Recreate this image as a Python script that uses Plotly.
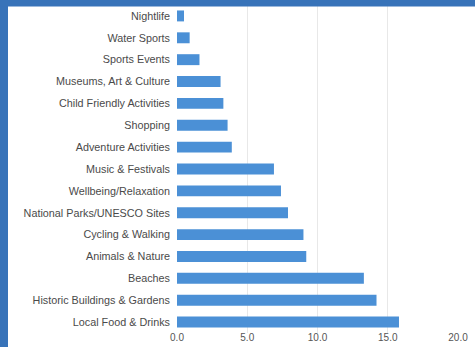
import plotly.graph_objects as go

categories = [
    "Nightlife", "Water Sports", "Sports Events", "Museums, Art & Culture",
    "Child Friendly Activities", "Shopping", "Adventure Activities",
    "Music & Festivals", "Wellbeing/Relaxation", "National Parks/UNESCO Sites",
    "Cycling & Walking", "Animals & Nature", "Beaches",
    "Historic Buildings & Gardens", "Local Food & Drinks",
]
values = [0.5, 0.9, 1.6, 3.1, 3.3, 3.6, 3.9, 6.9, 7.4, 7.9, 9.0, 9.2, 13.3, 14.2, 15.8]
x_ticks = [0, 5, 10, 15, 20]

W, H = 475, 347
L, R, T, B = 177, 17, 5, 14
pw, ph = W - L - R, H - T - B

fig = go.Figure(go.Bar(
    x=values, y=categories, orientation="h",
    marker=dict(color="#4b90d6", line=dict(width=0)),
))

def px_x(p):
    return (p - L) / pw

def px_y(p):
    return (H - B - p) / ph

border = "#3873b9"
fig.add_shape(type="rect", xref="paper", yref="paper",
              x0=px_x(-2), x1=px_x(8), y0=px_y(H + 2), y1=px_y(-2),
              fillcolor=border, line=dict(width=0), layer="above")
fig.add_shape(type="rect", xref="paper", yref="paper",
              x0=px_x(-2), x1=px_x(W + 2), y0=px_y(6.5), y1=px_y(-2),
              fillcolor=border, line=dict(width=0), layer="above")

fig.update_layout(
    width=W, height=H,
    margin=dict(l=L, r=R, t=T, b=B, pad=0, autoexpand=False),
    paper_bgcolor="white", plot_bgcolor="white",
    bargap=0.5, showlegend=False,
    font=dict(family="Liberation Sans, Arial, sans-serif", size=10.5, color="#444"),
)
fig.update_xaxes(range=[0, 20], tickvals=x_ticks, tickformat=".1f",
                 automargin=False,
                 showgrid=True, gridcolor="#e8e8e8", gridwidth=1,
                 zeroline=False, showline=False, ticks="",
                 ticklabelstandoff=-3,
                 tickfont=dict(size=10, color="#555"))
fig.update_yaxes(autorange="reversed", automargin=False,
                 showgrid=False, zeroline=False,
                 showline=False, ticks="", ticklabelstandoff=6,
                 tickfont=dict(size=10.8, color="#4a4a4a"))

fig.write_html(
    "out.html", config={"displayModeBar": False},
    post_script=("document.documentElement.style.margin='0';"
                 "document.body.style.margin='0';"
                 "document.body.style.overflow='hidden';"
                 "window.scrollTo(0,0);"))
